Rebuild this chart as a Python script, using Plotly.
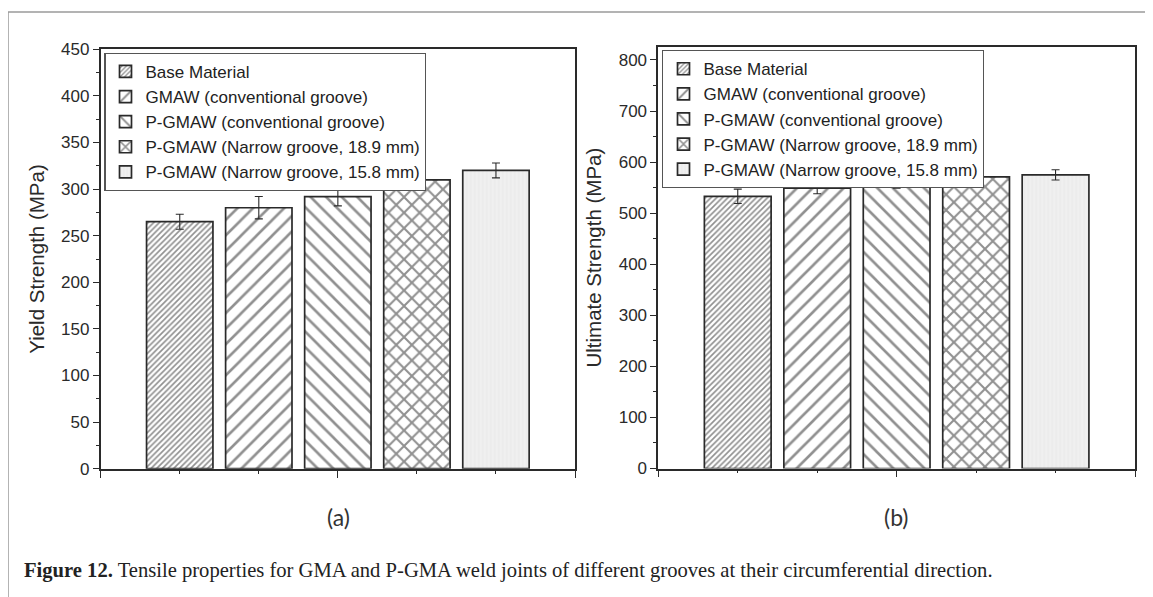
import plotly.graph_objects as go

# ---------------- data ----------------
categories = [
    "Base Material",
    "GMAW (conventional groove)",
    "P-GMAW (conventional groove)",
    "P-GMAW (Narrow groove, 18.9 mm)",
    "P-GMAW (Narrow groove, 15.8 mm)",
]
yield_strength = [265, 280, 292, 310, 320]
yield_error = [8, 12, 10, 7, 8]
ultimate_strength = [533, 549, 561, 571, 575]
ultimate_error = [14, 11, 12, 9, 10]

yield_ticks = [0, 50, 100, 150, 200, 250, 300, 350, 400, 450]
ultimate_ticks = [0, 100, 200, 300, 400, 500, 600, 700, 800]

panel_labels = ["(a)", "(b)"]
caption_bold = "Figure 12."
caption_text = ("Tensile properties for GMA and P-GMA weld joints of different "
                "grooves at their circumferential direction.")

# ---------------- styles ----------------
W, H = 1153, 597
OFF = 8  # page body margin offset of the plot div
INK = "#2a2a2a"
patterns = [
    dict(shape="/", size=4, solidity=0.42, fgcolor="#222222", bgcolor="white"),
    dict(shape="/", size=11, solidity=0.24, fgcolor="#222222", bgcolor="white"),
    dict(shape="\\", size=11, solidity=0.24, fgcolor="#222222", bgcolor="white"),
    dict(shape="x", size=11, solidity=0.34, fgcolor="#222222", bgcolor="white"),
    dict(shape="|", size=4, solidity=0.3, fgcolor="#e2e2e2", bgcolor="#f0f0f0"),
]
SANS = "Liberation Sans, Arial, sans-serif"


def px_x(p):
    return (p - OFF) / W


def px_y(p):
    return 1 - (p - OFF) / H


fig = go.Figure()

panels = [
    dict(vals=yield_strength, errs=yield_error, xa="x", ya="y", legend="legend"),
    dict(vals=ultimate_strength, errs=ultimate_error, xa="x2", ya="y2", legend="legend2"),
]
for panel in panels:
    for i, name in enumerate(categories):
        fig.add_trace(go.Bar(
            x=[i + 1], y=[panel["vals"][i]], name=name,
            width=0.84,
            marker=dict(color="white", pattern=patterns[i],
                        line=dict(color=INK, width=1.7)),
            error_y=dict(type="data", array=[panel["errs"][i]], color=INK,
                         thickness=1.1, width=4),
            xaxis=panel["xa"], yaxis=panel["ya"], legend=panel["legend"],
            hovertemplate=name + ": %{y} MPa<extra></extra>",
        ))

axis_common = dict(showline=True, linecolor=INK, linewidth=1.7, mirror=True,
                   showgrid=False, zeroline=False, ticks="outside",
                   tickcolor=INK, tickwidth=1.4, automargin=False)

xaxis_common = dict(axis_common, range=[0, 6], tick0=0, dtick=3, ticklen=7,
                    showticklabels=False,
                    minor=dict(dtick=1, ticklen=3, ticks="outside",
                               tickcolor=INK, tickwidth=1.4))

legend_common = dict(xanchor="left", yanchor="top",
                     bgcolor="white", bordercolor="#555", borderwidth=1.2,
                     font=dict(size=17, family=SANS, color="#222"),
                     itemwidth=30, tracegroupgap=0)

fig.update_layout(
    width=W, height=H,
    margin=dict(l=0, r=0, t=0, b=0, pad=0, autoexpand=False),
    paper_bgcolor="white", plot_bgcolor="white",
    barmode="overlay",
    font=dict(family=SANS, color="#2a2a2a"),
    xaxis=dict(xaxis_common, domain=[px_x(100.7), px_x(575)], anchor="y"),
    yaxis=dict(axis_common, domain=[px_y(468.7), px_y(49.3)], anchor="x",
               range=[0, 450], tickvals=yield_ticks, ticklen=6,
               tickfont=dict(size=17, family=SANS),
               minor=dict(dtick=25, ticklen=3, ticks="outside",
                          tickcolor=INK, tickwidth=1.4),
               title=dict(text="Yield Strength (MPa)", standoff=11,
                          font=dict(size=20.5, family=SANS))),
    xaxis2=dict(xaxis_common, domain=[px_x(658.3), px_x(1135)], anchor="y2"),
    yaxis2=dict(axis_common, domain=[px_y(468.5), px_y(46.7)], anchor="x2",
                range=[0, 826], tickvals=ultimate_ticks, ticklen=6,
                tickfont=dict(size=17, family=SANS),
                minor=dict(dtick=50, ticklen=3, ticks="outside",
                           tickcolor=INK, tickwidth=1.4),
                title=dict(text="Ultimate Strength (MPa)", standoff=11,
                           font=dict(size=20.5, family=SANS))),
    legend=dict(legend_common, x=px_x(104.3), y=px_y(52.7)),
    legend2=dict(legend_common, x=px_x(662.3), y=px_y(50)),
    showlegend=True,
)

# panel labels under each subplot
for label, cx in zip(panel_labels, [338.3, 896.7]):
    fig.add_annotation(text=label, x=px_x(cx), y=px_y(517), xref="paper", yref="paper",
                       showarrow=False, xanchor="center", yanchor="middle",
                       font=dict(size=23, family="Lato, Open Sans, sans-serif",
                                 color="#333"))

# caption
fig.add_annotation(text=f"<b>{caption_bold}</b> {caption_text}",
                   x=px_x(22), y=px_y(570), xref="paper", yref="paper",
                   showarrow=False, xanchor="left", yanchor="middle",
                   font=dict(size=20.6, family="Liberation Serif, Times New Roman, serif",
                             color="#222"))

# page frame lines (top and left)
frame = dict(type="line", xref="paper", yref="paper",
             line=dict(color="#9a9a9a", width=1.5))
fig.add_shape(frame, x0=px_x(8), y0=px_y(12), x1=1, y1=px_y(12))
fig.add_shape(frame, x0=px_x(8), y0=px_y(12), x1=px_x(8), y1=0)

fig.write_html("out.html")
